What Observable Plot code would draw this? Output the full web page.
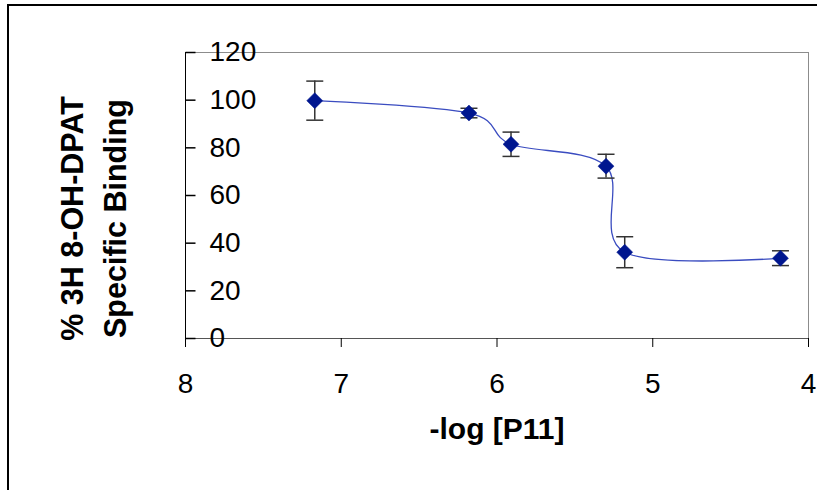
<!DOCTYPE html>
<html>
<head>
<meta charset="utf-8">
<script src="https://cdn.jsdelivr.net/npm/d3@7"></script>
<script src="https://cdn.jsdelivr.net/npm/@observablehq/plot@0.6"></script>
<style>
  html, body { margin: 0; padding: 0; background: #fff; }
  #wrap { position: relative; width: 817px; height: 490px; overflow: hidden; }
  #border { position: absolute; left: 7px; top: 4px; width: 840px; height: 520px; border: 2px solid #000; box-sizing: border-box; pointer-events: none; }
  #chart { position: absolute; left: 0; top: 0; }
</style>
</head>
<body>
<div id="wrap"><div id="chart"></div><div id="border"></div></div>
<script>
// Data
const logConc = [7.17, 6.18, 5.91, 5.30, 5.18, 4.18];
const binding = [99.8, 94.6, 81.5, 72.3, 36.2, 33.7];
const errors  = [8.2, 2.0, 5.1, 5.0, 6.5, 3.1];
const xDomain = [8, 4];
const yDomain = [0, 120];
const xTicks = [8, 7, 6, 5, 4];
const yTicks = [0, 20, 40, 60, 80, 100, 120];
const xTitle = "-log [P11]";
const yTitle = "% 3H 8-OH-DPAT\nSpecific Binding";

const data = logConc.map((x, i) => ({x, y: binding[i], lo: binding[i] - errors[i], hi: binding[i] + errors[i]}));

const capSymbol = { draw(ctx) { ctx.moveTo(-8.5, 0); ctx.lineTo(8.5, 0); } };
const yTickSymbol = { draw(ctx) { ctx.moveTo(0, 0); ctx.lineTo(10, 0); } };

const chart = Plot.plot({
  width: 817,
  height: 490,
  marginLeft: 185,
  marginRight: 9,
  marginTop: 52,
  marginBottom: 152,
  style: { fontFamily: "'Liberation Sans', Arial, sans-serif", fontSize: "28px", background: "transparent", color: "#000", overflow: "visible" },
  x: { domain: xDomain, type: "linear" },
  y: { domain: yDomain },
  marks: [
    Plot.frame({ stroke: "#8c8c8c" }),
    Plot.ruleY([yDomain[0]], { stroke: "#555" }),
    Plot.ruleX([xDomain[0]], { stroke: "#000" }),
    Plot.dot(yTicks, { y: d => d, frameAnchor: "left", symbol: yTickSymbol, stroke: "#000", fill: "none", r: 5 }),
    Plot.axisY(yTicks, { anchor: "left", tickSize: 0, tickPadding: 0, dx: 24, textAnchor: "start", label: null, fontSize: 28, tickFormat: d => String(d) }),
    Plot.axisX(xTicks, { anchor: "bottom", tickSize: 9, tickPadding: 26, label: null, fontSize: 28, stroke: "#000", tickFormat: d => String(d) }),
    Plot.line(data, { x: "x", y: "y", curve: "cardinal", stroke: "#3a4cc0", strokeWidth: 1.3 }),
    Plot.ruleX(data, { x: "x", y1: "lo", y2: "hi", stroke: "#333", strokeWidth: 1.5 }),
    Plot.dot(data, { x: "x", y: "hi", symbol: capSymbol, stroke: "#333", strokeWidth: 1.5, fill: "none", r: 5 }),
    Plot.dot(data, { x: "x", y: "lo", symbol: capSymbol, stroke: "#333", strokeWidth: 1.5, fill: "none", r: 5 }),
    Plot.dot(data, { x: "x", y: "y", symbol: "diamond2", r: 7.2, fill: "#00168f", stroke: "#00168f", strokeWidth: 0.5 }),
    Plot.text([xTitle], { frameAnchor: "bottom", dy: 100, fontSize: 30, fontWeight: "bold", textAnchor: "middle" }),
    Plot.text([yTitle], { frameAnchor: "left", rotate: -90, dx: -95, dy: 23, fontSize: 30.5, fontWeight: "bold", lineHeight: 1.43, textAnchor: "middle" })
  ]
});
document.getElementById("chart").appendChild(chart);
</script>
</body>
</html>
